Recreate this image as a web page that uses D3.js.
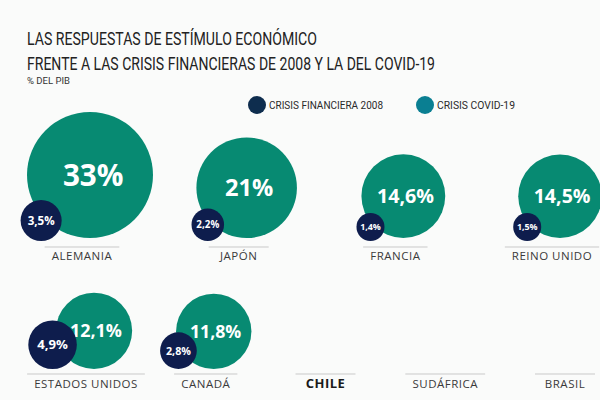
<!DOCTYPE html>
<html>
<head>
<meta charset="utf-8">
<script src="https://cdn.jsdelivr.net/npm/d3@7"></script>
<style>
  body { margin: 0; background: #fafbfa; }
  svg { display: block; }
</style>
</head>
<body>
<div id="chart"></div>
<script>
// data (% del PIB)
var countries = ["ALEMANIA", "JAPÓN", "FRANCIA", "REINO UNIDO",
                 "ESTADOS UNIDOS", "CANADÁ", "CHILE", "SUDÁFRICA", "BRASIL"];
var covid2019 = [33, 21, 14.6, 14.5, 12.1, 11.8, null, null, null];
var crisis2008 = [3.5, 2.2, 1.4, 1.5, 4.9, 2.8, null, null, null];
var rowSizes = [4, 5];
var highlight = "CHILE";
var seriesNames = ["CRISIS FINANCIERA 2008", "CRISIS COVID-19"];

var width = 600, height = 400;
var colBig = "#078a72", colSmall = "#0e1d4d";
var colLegend = ["#0e2d4e", "#0a7f92"];

var svg = d3.select("#chart").append("svg")
  .attr("width", width)
  .attr("height", height);

svg.append("rect")
  .attr("width", width).attr("height", height)
  .attr("fill", "#fafbfa");

// titles
svg.append("text")
  .attr("x", 27).attr("y", 45)
  .attr("textLength", 290).attr("lengthAdjust", "spacingAndGlyphs")
  .style("font-family", "Roboto, sans-serif").style("font-size", "18px")
  .attr("fill", "#222")
  .text("LAS RESPUESTAS DE ESTÍMULO ECONÓMICO");
svg.append("text")
  .attr("x", 27).attr("y", 70)
  .attr("textLength", 408).attr("lengthAdjust", "spacingAndGlyphs")
  .style("font-family", "Roboto, sans-serif").style("font-size", "18px")
  .attr("fill", "#222")
  .text("FRENTE A LAS CRISIS FINANCIERAS DE 2008 Y LA DEL COVID-19");
svg.append("text")
  .attr("x", 27).attr("y", 84)
  .attr("textLength", 43).attr("lengthAdjust", "spacingAndGlyphs")
  .style("font-family", "Roboto, sans-serif").style("font-size", "9px")
  .attr("fill", "#333")
  .text("% DEL PIB");

// legend
var legendX = [257, 425], legendW = [114, 78];
var legend = svg.selectAll(".legend")
  .data(seriesNames)
  .enter().append("g")
  .attr("class", "legend")
  .attr("transform", function(d, i) { return "translate(" + legendX[i] + ",105)"; });
legend.append("circle")
  .attr("r", 9)
  .attr("fill", function(d, i) { return colLegend[i]; });
legend.append("text")
  .attr("x", 12).attr("y", 4)
  .attr("textLength", function(d, i) { return legendW[i]; })
  .attr("lengthAdjust", "spacingAndGlyphs")
  .style("font-family", "Roboto, sans-serif").style("font-size", "11.5px")
  .attr("fill", "#2a2a2a")
  .text(function(d) { return d; });

// spanish number format
var es = d3.formatLocale({ decimal: ",", thousands: ".", grouping: [3], currency: ["", "€"] });
function pct(v) {
  return (Number.isInteger(v) ? es.format("d")(v) : es.format(".1f")(v)) + "%";
}

// scales
var rScale = d3.scaleSqrt().domain([0, 33]).range([0, 63]);
function r(v) { return Math.max(14, rScale(v)); }

var rowLineY = [247, 374];
var rowX = [
  d3.scalePoint().domain(d3.range(rowSizes[0])).range([82, 552]),
  d3.scalePoint().domain(d3.range(rowSizes[1])).range([86, 565])
];
var bigGap = [9, 5], smallGap = [6, 5];

var items = countries.map(function(c, i) {
  var row = i < rowSizes[0] ? 0 : 1;
  var col = row === 0 ? i : i - rowSizes[0];
  return { name: c, covid: covid2019[i], fin: crisis2008[i], row: row, col: col };
});

var cell = svg.selectAll(".cell")
  .data(items)
  .enter().append("g")
  .attr("class", "cell")
  .attr("transform", function(d) {
    return "translate(" + rowX[d.row](d.col) + "," + rowLineY[d.row] + ")";
  });

// labels
cell.append("text")
  .attr("class", "label")
  .attr("y", function(d) { return d.row === 0 ? 13 : 14; })
  .attr("text-anchor", "middle")
  .style("font-family", "'Open Sans', sans-serif")
  .style("font-size", function(d) { return d.name === highlight ? "13px" : "11.5px"; })
  .style("font-weight", function(d) { return d.name === highlight ? "bold" : "normal"; })
  .style("letter-spacing", "0.5px")
  .attr("fill", function(d) { return d.name === highlight ? "#1a1a1a" : "#3a3a3a"; })
  .text(function(d) { return d.name; });

// separator lines
cell.each(function(d) {
  var g = d3.select(this);
  var w = Math.max(g.select(".label").node().getBBox().width + 14, 60);
  g.insert("line", ".label")
    .attr("x1", -w / 2).attr("x2", w / 2)
    .attr("y1", 0).attr("y2", 0)
    .attr("stroke", "#c9c9c9").attr("stroke-width", 1);
});

// bubbles
var withData = cell.filter(function(d) { return d.covid != null; });

withData.append("circle")
  .attr("cx", 8)
  .attr("cy", function(d) { return -bigGap[d.row] - r(d.covid); })
  .attr("r", function(d) { return r(d.covid); })
  .attr("fill", colBig);

withData.append("text")
  .attr("x", function(d) { return 8 + r(d.covid) * 0.05; })
  .attr("y", function(d) { return -bigGap[d.row] - r(d.covid); })
  .attr("dy", "0.36em")
  .attr("text-anchor", "middle")
  .style("font-family", "'Open Sans', sans-serif")
  .style("font-weight", "bold")
  .style("font-size", function(d) { return (r(d.covid) * 0.47) + "px"; })
  .attr("fill", "#fff")
  .text(function(d) { return pct(d.covid); });

function smallX(d) { return 8 - (r(d.covid) * 0.45 + r(d.fin)); }

withData.append("circle")
  .attr("cx", smallX)
  .attr("cy", function(d) { return -smallGap[d.row] - r(d.fin); })
  .attr("r", function(d) { return r(d.fin); })
  .attr("fill", colSmall);

withData.append("text")
  .attr("x", smallX)
  .attr("y", function(d) { return -smallGap[d.row] - r(d.fin); })
  .attr("dy", "0.36em")
  .attr("text-anchor", "middle")
  .style("font-family", "'Open Sans', sans-serif")
  .style("font-weight", "bold")
  .style("font-size", function(d) { return (3 + r(d.fin) * 0.42) + "px"; })
  .attr("fill", "#fff")
  .text(function(d) { return pct(d.fin); });
</script>
</body>
</html>
